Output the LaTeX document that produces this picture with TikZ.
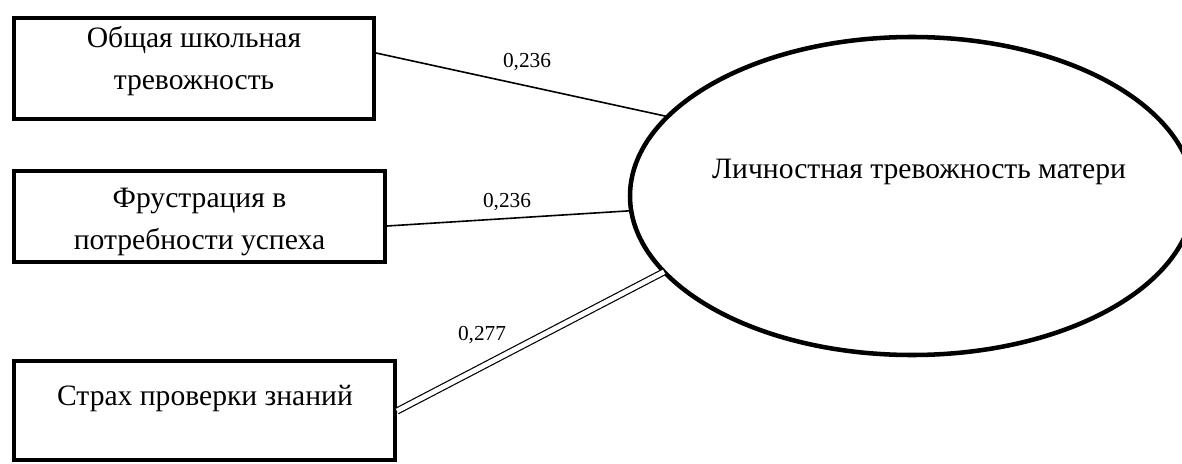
\documentclass[tikz,border=0pt]{standalone}
\usepackage{fontspec}
\setmainfont{Liberation Serif}
\usetikzlibrary{shapes.geometric}
\begin{document}
\begin{tikzpicture}[x=0.75pt,y=-0.75pt,
  box/.style={draw,line width=3pt,minimum width=#1,inner sep=0pt},
  boxtext/.style={font=\fontsize{22.2}{31.5}\selectfont,align=center,inner sep=0pt},
  coef/.style={font=\fontsize{16}{18}\selectfont,inner sep=0pt},
  link/.style={line width=1.2pt},
  dlink/.style={line width=0.9pt,double,double distance=3.6pt}]
\useasboundingbox (0,0) rectangle (1182,464);
\clip (0,0) rectangle (1182,464);
% boxes
\draw[line width=3pt] (14,18) rectangle (374,119);
\node (b1) at (194,68.5) [minimum width=270pt,minimum height=75.75pt] {};
\draw[line width=3pt] (14,171) rectangle (385,262);
\node (b2) at (199.5,216.5) [minimum width=278pt,minimum height=68pt] {};
\draw[line width=3pt] (14,361) rectangle (395,460);
\node (b3) at (204.5,410.5) [minimum width=286pt,minimum height=74pt] {};
% box texts
\node[boxtext] (t1) at (194,61) {Общая школьная\\тревожность};
\node[boxtext] (t2) at (199.5,222) {Фрустрация в\\потребности успеха};
\node[boxtext] (t3) at (205,399) {Страх проверки знаний};
% ellipse
\node[ellipse,draw,line width=3.4pt,minimum width=423pt,minimum height=238.5pt,inner sep=0pt,outer sep=0pt] (ell) at (912,196) {};
\node[boxtext] (et) at (919,172) {Личностная тревожность матери};
% connectors
\coordinate (s1) at (376,53);
\coordinate (s2) at (387,226);
\coordinate (s3) at (397,411);
\draw[link] (s1) -- (ell.162.9);
\draw[link] (s2) -- (ell.183.1);
\draw[dlink] (s3) -- (ell.197.2);
% coefficients
\node[coef] (c1) at (527,62) {0,236};
\node[coef] (c2) at (507,202) {0,236};
\node[coef] (c3) at (482,335) {0,277};
\end{tikzpicture}
\end{document}
